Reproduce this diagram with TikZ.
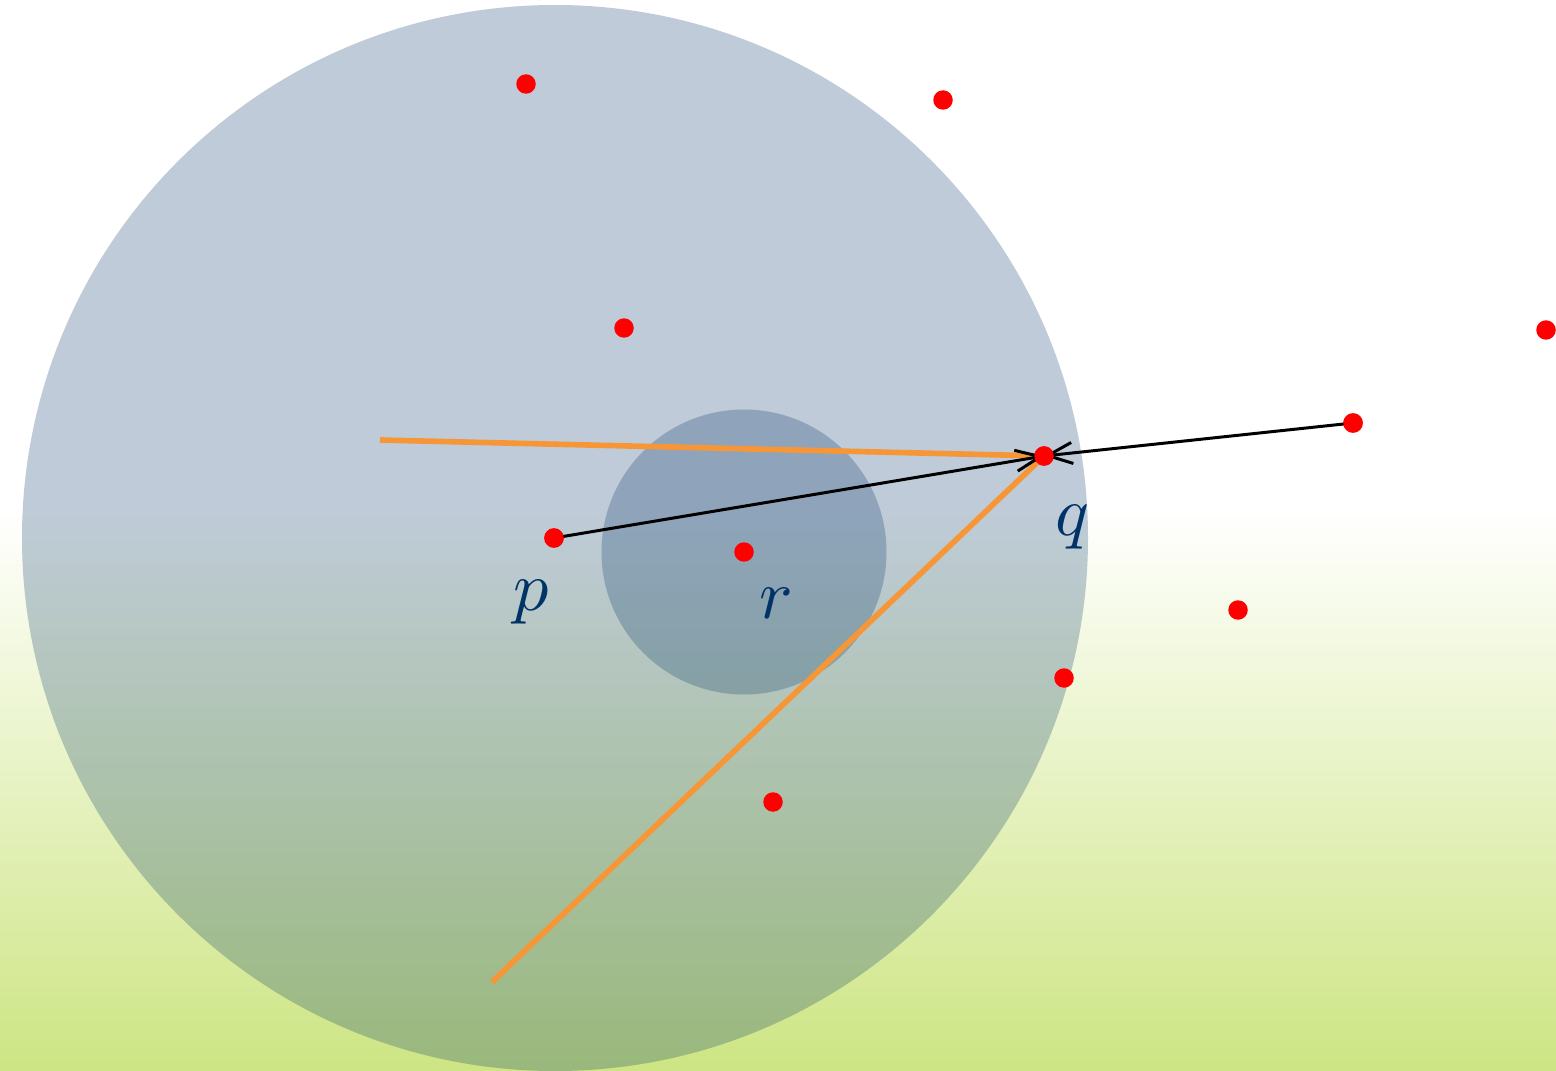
\documentclass[tikz,border=0pt]{standalone}
\usepackage{graphicx}
\usetikzlibrary{arrows.meta}
\definecolor{bgGreen}{RGB}{205,229,131}
\definecolor{lineOrange}{RGB}{247,150,55}
\definecolor{labelBlue}{RGB}{0,51,102}
\tikzset{
  pt/.style={circle, fill=red, inner sep=0pt, minimum size=0.39cm},
  disc/.style={fill=labelBlue, fill opacity=0.25, draw=none},
  orangeline/.style={draw=lineOrange, line width=3.2pt},
  arrowline/.style={draw=black, line width=1.7pt, -{Straight Barb[length=14pt,width=12pt,line width=1.7pt]}},
  lbl/.style={text=labelBlue, inner sep=0pt, anchor=base}
}
\begin{document}
\begin{tikzpicture}[x=0.02cm,y=-0.02cm]
\useasboundingbox (0,0) rectangle (1556,1071);
\fill[white] (0,0) rectangle (1556,511);
\shade[top color=white, bottom color=bgGreen] (0,510) rectangle (1556,1071);
\fill[disc] (555,538) circle[radius=533];
\fill[disc] (744,552) circle[radius=142.5];
\node[pt] (a1) at (526,84) {};
\node[pt] (a2) at (943,100) {};
\node[pt] (a3) at (624,328) {};
\node[pt] (a4) at (1546,330) {};
\node[pt] (s) at (1353,423) {};
\node[pt] (a6) at (1238,610) {};
\node[pt] (a7) at (1064,678) {};
\node[pt] (a8) at (773,802) {};
\node[pt] (r) at (744,552) {};
\node[pt] (p) at (554,538) {};
\node[pt] (q) at (1044,456) {};
\coordinate (o1) at (380,440);
\coordinate (o2) at (492,982);
\path[orangeline] (o1) -- (q.center);
\path[orangeline] (o2) -- (q.center);
\path[arrowline] (p.center) -- (q.center);
\path[arrowline] (s.center) -- (q.center);
\node[pt] at (q) {};
\node[pt] at (p) {};
\node[pt] at (s) {};
\node[lbl] (lp) at (531,610) {\scalebox{4}{$p$}};
\node[lbl] (lq) at (1072,535) {\scalebox{4}{$q$}};
\node[lbl] (lr) at (776,618) {\scalebox{4}{$r$}};
\end{tikzpicture}
\end{document}
